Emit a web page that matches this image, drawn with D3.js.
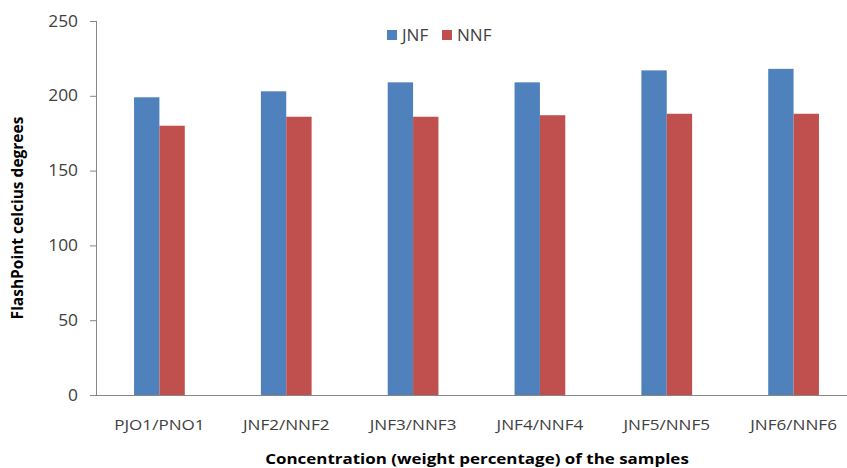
<!DOCTYPE html>
<html>
<head>
<meta charset="utf-8">
<script src="https://cdn.jsdelivr.net/npm/d3@7/dist/d3.min.js"></script>
<style>
  html, body { margin: 0; padding: 0; background: #fff; }
  svg { display: block; }
  text { font-family: "Open Sans", "Noto Sans", sans-serif; }
</style>
</head>
<body>
<svg id="chart" width="847" height="468"></svg>
<script>
// Flash point of the jatropha (JNF) and neem (NNF) blends
const categories = ["PJO1/PNO1", "JNF2/NNF2", "JNF3/NNF3", "JNF4/NNF4", "JNF5/NNF5", "JNF6/NNF6"];
const seriesNames = ["JNF", "NNF"];
const jnfValues = [199, 203, 209, 209, 217, 218];
const nnfValues = [180, 186, 186, 187, 188, 188];
const yTicks = [0, 50, 100, 150, 200, 250];
const colors = ["#4F81BD", "#C0504D"];

const svg = d3.select("#chart");
const plotLeft = 96, plotRight = 857, plotTop = 21, plotBottom = 395;
const stretch = 1.14;   // wide face used for all labels

const x0 = d3.scaleBand().domain(categories).range([plotLeft, plotRight])
  .paddingInner(0.6).paddingOuter(0.3);
const x1 = d3.scaleBand().domain(seriesNames).range([0, x0.bandwidth()]);
const y = d3.scaleLinear().domain([0, 250]).range([plotBottom, plotTop]);

const rows = categories.map((c, i) => ({ cat: c, vals: [jnfValues[i], nnfValues[i]] }));

// bars
const groups = svg.append("g").selectAll("g").data(rows).join("g")
  .attr("transform", d => `translate(${x0(d.cat)},0)`);
groups.selectAll("rect")
  .data(d => d.vals.map((v, k) => ({ name: seriesNames[k], v, k })))
  .join("rect")
  .attr("x", d => x1(d.name))
  .attr("y", d => y(d.v))
  .attr("width", x1.bandwidth())
  .attr("height", d => y(0) - y(d.v))
  .attr("fill", d => colors[d.k]);

// y axis
const yAxis = svg.append("g").attr("transform", `translate(${plotLeft},0)`)
  .call(d3.axisLeft(y).tickValues(yTicks).tickSize(6).tickSizeOuter(0).tickFormat(() => ""));
yAxis.selectAll("path, line").attr("stroke", "#868686");
yAxis.select(".domain").attr("d", `M0.5,${plotTop}V${plotBottom}`);

// x axis baseline
svg.append("line").attr("x1", plotLeft).attr("x2", plotRight)
  .attr("y1", plotBottom + 0.5).attr("y2", plotBottom + 0.5).attr("stroke", "#868686");

function label(g, x, yy, txt, opts) {
  return g.append("text")
    .attr("transform", `translate(${x},${yy}) scale(${opts.sx || stretch},1)`)
    .attr("text-anchor", opts.anchor || "middle")
    .attr("font-size", opts.size || 14)
    .attr("font-weight", opts.weight || "normal")
    .attr("fill", opts.fill || "#404040")
    .text(txt);
}

const lab = svg.append("g");
// y tick labels
yTicks.forEach(v => label(lab, 78, y(v) + 5.5, String(v), { anchor: "end", size: 15.5, sx: 1.12 }));
// category labels
categories.forEach(c => label(lab, x0(c) + x0.bandwidth() / 2, 430, c, { size: 15 }));

// axis titles
label(lab, 477, 464, "Concentration (weight percentage) of the samples",
  { size: 15, weight: "bold", fill: "#000", sx: 1.13 });
svg.append("text")
  .attr("transform", "translate(23,218) rotate(-90)")
  .attr("text-anchor", "middle").attr("font-size", 15.5).attr("font-weight", "bold")
  .attr("fill", "#000").text("FlashPoint celcius degrees");

// legend
const legendPos = [387, 442];
seriesNames.forEach((n, k) => {
  svg.append("rect").attr("x", legendPos[k]).attr("y", 30).attr("width", 10).attr("height", 10)
    .attr("fill", colors[k]);
  label(lab, legendPos[k] + 15, 40.5, n, { anchor: "start", size: 15.5, sx: 1.1 });
});
</script>
</body>
</html>
